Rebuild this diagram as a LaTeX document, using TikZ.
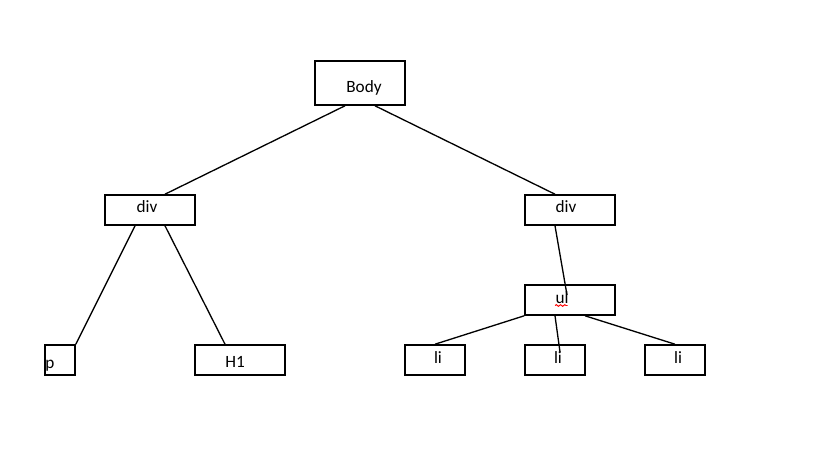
\documentclass[tikz,border=0pt]{standalone}
\usepackage{fontspec}
\setmainfont{Carlito}
\usepackage{tikz}
\usetikzlibrary{calc,decorations.pathmorphing}

\begin{document}
\begin{tikzpicture}[
    box/.style={draw, line width=0.9pt, minimum width=1.8cm, minimum height=0.6cm, inner sep=0pt,
      text height=0.24cm, text depth=0.07cm, font=\fontsize{9.8}{11}\selectfont},
    edge/.style={line width=0.75pt}
  ]
    \useasboundingbox (0,0) rectangle (16.6,-9.5);
    \node [box, minimum height=0.88cm] (body) at (7.2,-1.66) {\hspace*{0.16cm}\raisebox{-0.1cm}{Body}};
    \node [box] (divL) at (3.0,-4.2) {\hspace*{-0.12cm}\raisebox{0.04cm}{div}};
    \node [box] (divR) at (11.4,-4.2) {\hspace*{-0.16cm}\raisebox{0.04cm}{div}};
    \node [box] (ul) at (11.4,-6.0) {\hspace*{-0.32cm}\raisebox{0.02cm}{ul}};
    \node [box, minimum width=0.6cm, text width=0.58cm, align=left, inner xsep=0.01cm] (p) at (1.2,-7.2) {\raisebox{-0.08cm}{p}};
    \node [box] (h1) at (4.8,-7.2) {\hspace*{-0.2cm}\raisebox{-0.06cm}{H1}};
    \node [box, minimum width=1.2cm] (li1) at (8.7,-7.2) {\hspace*{0.12cm}\raisebox{0.02cm}{li}};
    \node [box, minimum width=1.2cm] (li2) at (11.1,-7.2) {\hspace*{0.12cm}\raisebox{0.02cm}{li}};
    \node [box, minimum width=1.2cm] (li3) at (13.5,-7.2) {\hspace*{0.12cm}\raisebox{0.02cm}{li}};

    % tree edges
    \draw [edge] ([xshift=-0.3cm]body.south) -- ([xshift=0.3cm]divL.north);
    \draw [edge] ([xshift=0.3cm]body.south) -- ([xshift=-0.3cm]divR.north);
    \draw [edge] ([xshift=-0.3cm]divL.south) -- (p.north east);
    \draw [edge] ([xshift=0.3cm]divL.south) -- ([xshift=-0.3cm]h1.north);
    \draw [edge] ([xshift=-0.3cm]divR.south) -- ([xshift=-0.06cm,yshift=0.1cm]ul.center);
    \draw [edge] (ul.south west) -- (li1.north);
    \draw [edge] ([xshift=-0.3cm]ul.south) -- ([xshift=0.1cm,yshift=0.16cm]li2.center);
    \draw [edge] ([xshift=0.3cm]ul.south) -- (li3.north);

    % spell check underline
    \draw [red, line width=0.55pt, decorate, decoration={snake, amplitude=0.45pt, segment length=2.4pt}]
      ([xshift=-0.3cm,yshift=-0.11cm]ul.center) -- ([xshift=-0.05cm,yshift=-0.11cm]ul.center);
\end{tikzpicture}
\end{document}
